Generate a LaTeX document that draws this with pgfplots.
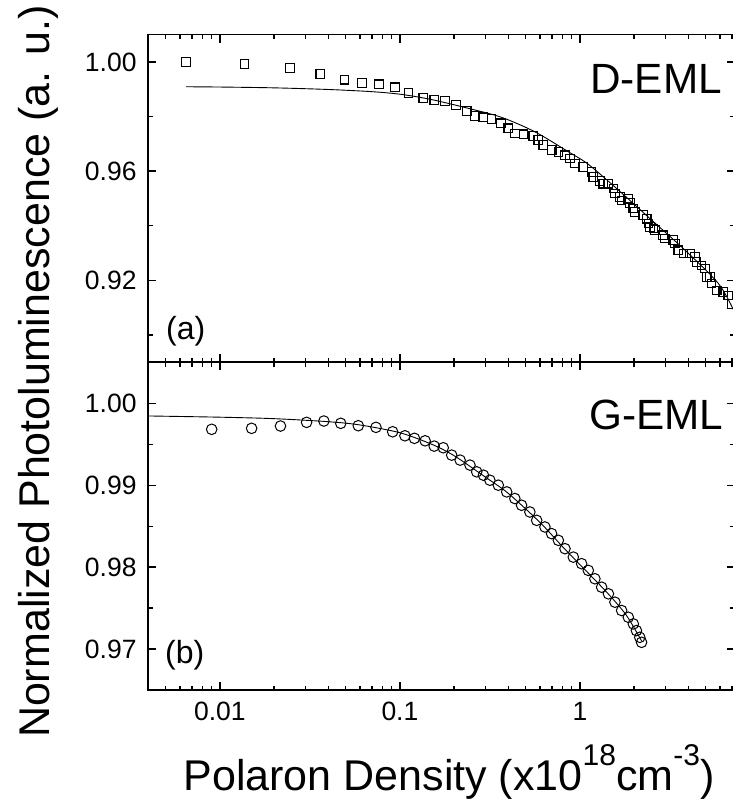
\documentclass[border=0pt]{standalone}
\usepackage{fontspec}
\setmainfont{Liberation Sans}
\usepackage{pgfplots}
\pgfplotsset{compat=1.18}

\pgfplotstableread{
x y
0.00647 1.0000
0.01371 0.99915
0.0245 0.9977
0.0361 0.9955
0.0493 0.9935
0.0615 0.9923
0.0764 0.9918
0.0938 0.9907
0.1114 0.9887
0.1349 0.9867
0.1553 0.9860
0.178 0.9857
0.205 0.9842
0.235 0.9821
0.261 0.9802
0.290 0.9797
0.323 0.9791
0.364 0.9775
0.400 0.9757
0.435 0.9738
0.485 0.9735
0.551 0.9728
0.587 0.9714
0.626 0.9695
0.697 0.9677
0.759 0.9670
0.826 0.9658
0.880 0.9646
0.938 0.9628
1.044 0.9615
1.161 0.9597
1.186 0.9578
1.291 0.9564
1.349 0.9554
1.438 0.9554
1.534 0.9536
1.565 0.9518
1.668 0.9505
1.705 0.9493
1.857 0.9499
1.896 0.9483
1.98 0.9463
2.02 0.9451
2.25 0.9439
2.35 0.9426
2.40 0.9408
2.45 0.9396
2.56 0.9390
2.61 0.9384
2.90 0.9365
2.97 0.9353
3.30 0.9347
3.37 0.9335
3.52 0.9310
3.76 0.9298
4.08 0.9298
4.36 0.9285
4.45 0.9267
4.74 0.9255
4.95 0.9243
5.06 0.9212
5.28 0.9212
5.39 0.9188
5.75 0.9163
6.26 0.9157
6.67 0.9145
6.96 0.9114
}\dataA

\pgfplotstableread{
x y
0.0065 0.9909
0.01 0.9908
0.02 0.9905
0.04 0.9899
0.07 0.9891
0.102 0.9881
0.15 0.9862
0.24 0.9830
0.367 0.9797
0.562 0.9744
0.862 0.9671
1.113 0.9625
1.634 0.9531
2.50 0.9421
3.83 0.9311
5.87 0.9189
7.13 0.9092
}\fitA

\pgfplotstableread{
x y
0.0090 0.99682
0.0150 0.99694
0.0217 0.99722
0.0303 0.99767
0.0378 0.99783
0.0469 0.99755
0.0587 0.99726
0.0736 0.99706
0.0911 0.99652
0.1066 0.99603
0.1204 0.99572
0.138 0.99542
0.155 0.99477
0.174 0.99457
0.194 0.99367
0.216 0.99306
0.245 0.99245
0.267 0.99163
0.291 0.99122
0.316 0.99061
0.352 0.99000
0.392 0.98918
0.435 0.98837
0.474 0.98755
0.527 0.98673
0.575 0.98571
0.639 0.98490
0.696 0.98409
0.759 0.98327
0.826 0.98225
0.919 0.98122
1.022 0.98042
1.113 0.97960
1.211 0.97858
1.32 0.97755
1.44 0.97674
1.565 0.97572
1.705 0.97470
1.857 0.97388
1.98 0.97307
2.06 0.97225
2.15 0.97143
2.20 0.97082
}\dataB

\pgfplotstableread{
x y
0.004 0.99845
0.01 0.99830
0.02 0.99812
0.04 0.99775
0.06 0.99735
0.1 0.99640
0.15 0.99500
0.2 0.99360
0.3 0.99095
0.4 0.98900
0.6 0.98545
0.8 0.98250
1.0 0.98030
1.4 0.97700
1.8 0.97420
2.2 0.97100
}\fitB

\begin{document}
\begin{tikzpicture}[x=1pt,y=1pt]
\path[use as bounding box] (-148.3,-114) rectangle (583.7,690);

\begin{axis}[at={(0,327.7pt)}, anchor=south west,
  scale only axis, width=586.5pt, height=327.7pt,
  xmode=log, xmin=0.004, xmax=7.25,
  axis line style={line width=1.8pt},
  tick align=inside,
  major tick length=8pt, minor tick length=4.5pt,
  every tick/.style={black, line width=1.3pt},
  tick label style={font=\fontsize{26.5}{26.5}\selectfont},
  /pgf/number format/assume math mode=true,
  xtick={0.01,0.1,1},
  minor xtick={0.004,0.005,0.006,0.007,0.008,0.009,0.02,0.03,0.04,0.05,0.06,0.07,0.08,0.09,0.2,0.3,0.4,0.5,0.6,0.7,0.8,0.9,2,3,4,5,6,7},
  yticklabel style={inner sep=0pt, xshift=-11.6pt},
  ymin=0.89, ymax=1.01,
  ytick={0.92,0.96,1.00}, yticklabels={0.92,0.96,1.00},
  minor ytick={0.90,0.94,0.98},
  xticklabels={}]
\addplot[black, line width=0.9pt, smooth] table {\fitA};
\addplot[only marks, mark=square, mark size=4.3pt, mark options={black, line width=1.1pt}] table {\dataA};
\end{axis}

\begin{axis}[at={(0,0)}, anchor=south west,
  scale only axis, width=586.5pt, height=327.7pt,
  xmode=log, xmin=0.004, xmax=7.25,
  axis line style={line width=1.8pt},
  tick align=inside,
  major tick length=8pt, minor tick length=4.5pt,
  every tick/.style={black, line width=1.3pt},
  tick label style={font=\fontsize{26.5}{26.5}\selectfont},
  /pgf/number format/assume math mode=true,
  xtick={0.01,0.1,1},
  minor xtick={0.004,0.005,0.006,0.007,0.008,0.009,0.02,0.03,0.04,0.05,0.06,0.07,0.08,0.09,0.2,0.3,0.4,0.5,0.6,0.7,0.8,0.9,2,3,4,5,6,7},
  yticklabel style={inner sep=0pt, xshift=-11.6pt},
  xticklabel style={inner sep=0pt, yshift=-11.7pt},
  ymin=0.965, ymax=1.005,
  ytick={0.97,0.98,0.99,1.00}, yticklabels={0.97,0.98,0.99,1.00},
  minor ytick={0.965,0.975,0.985,0.995},
  xticklabels={0.01,0.1,1}]
\addplot[black, line width=0.9pt, smooth] table {\fitB};
\addplot[only marks, mark=o, mark size=5.3pt, mark options={black, line width=1.0pt}] table {\dataB};
\end{axis}

\node[anchor=base west, inner sep=0pt, font=\fontsize{42.3}{42.3}\selectfont] at (441.7,596) {D-EML};
\node[anchor=base west, inner sep=0pt, font=\fontsize{42.3}{42.3}\selectfont] at (441,260) {G-EML};
\node[anchor=base west, inner sep=0pt, font=\fontsize{32}{32}\selectfont] at (17.7,350) {(a)};
\node[anchor=base west, inner sep=0pt, font=\fontsize{32}{32}\selectfont] at (16.7,26.5) {(b)};

\node[anchor=base, inner sep=0pt, rotate=90, font=\fontsize{43}{43}\selectfont] at (-99,318.5) {Normalized Photoluminescence (a. u.)};
\node[anchor=base, inner sep=0pt, font=\fontsize{43}{43}\selectfont] at (300.7,-100.5) {Polaron Density (x10\raisebox{25pt}{\fontsize{30}{30}\selectfont 18}cm\raisebox{25pt}{\fontsize{30}{30}\selectfont -3})};
\end{tikzpicture}
\end{document}
